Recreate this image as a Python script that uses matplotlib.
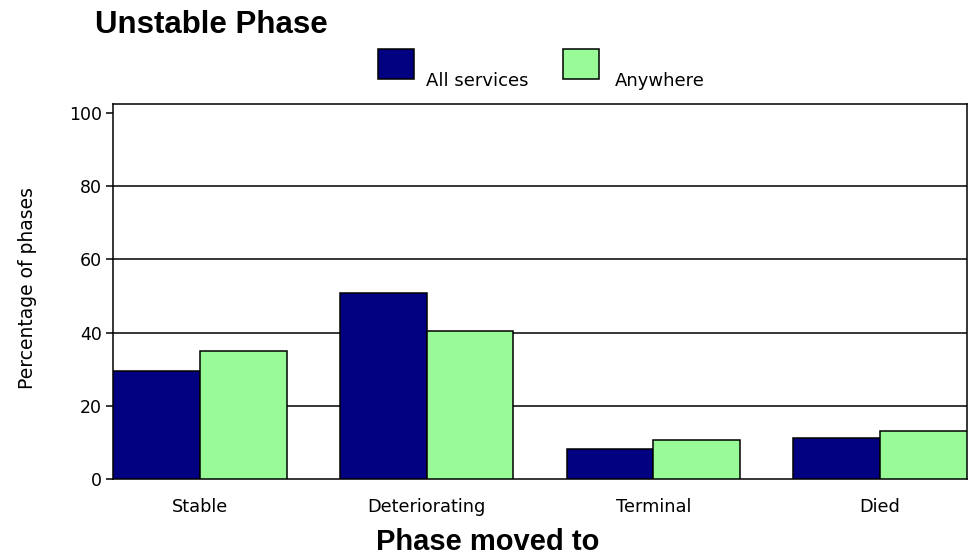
import matplotlib
matplotlib.use("Agg")
import matplotlib.pyplot as plt
from matplotlib.patches import Rectangle
import numpy as np

categories = ["Stable", "Deteriorating", "Terminal", "Died"]
all_services = [29.6, 50.9, 8.1, 11.3]
anywhere = [35.0, 40.4, 10.7, 13.0]
series_names = ["All services", "Anywhere"]
yticks = [0, 20, 40, 60, 80, 100]

NAVY = "#000080"
GREEN = "#98FB98"
W, H = 976, 560

fig = plt.figure(figsize=(W / 100, H / 100), dpi=100)
ax = fig.add_axes([113 / W, 1 - 479 / H, (967 - 113) / W, (479 - 104) / H])

x = np.arange(len(categories))
w = 0.383
ax.bar(x - w / 2, all_services, width=w, color=NAVY, edgecolor="black", linewidth=1.1, zorder=3)
ax.bar(x + w / 2, anywhere, width=w, color=GREEN, edgecolor="black", linewidth=1.1, zorder=3)

for v in yticks[1:-1]:
    ax.axhline(v, color="black", linewidth=1.1, zorder=1)

ax.set_xlim(-w, len(categories) - 1 + w)
ax.set_ylim(0, 102.5)
ax.set_yticks(yticks)
ax.set_xticks(x)
ax.set_xticklabels(categories)
ax.tick_params(axis="x", length=0, pad=14, labelsize=12.8)
ax.tick_params(axis="y", length=5, width=1.1, pad=3, labelsize=12.5)
for s in ax.spines.values():
    s.set_linewidth(1.1)
    s.set_color("black")

fig.text(28 / W, 1 - 288 / H, "Percentage of phases", rotation=90,
         ha="center", va="center", fontsize=13.5)

fig.text(95 / W, 1 - 33 / H, "Unstable Phase", ha="left", va="baseline",
         fontsize=22.5, fontweight="bold", family="Liberation Sans")
fig.text(0.5, 1 - 550 / H, "Phase moved to", ha="center", va="baseline",
         fontsize=21, fontweight="bold", family="Liberation Sans")

# legend drawn by hand: square patch with label sitting low on its right
legend_items = [(378, NAVY, 426), (563, GREEN, 615)]
for (px, col, tx), name in zip(legend_items, series_names):
    fig.add_artist(Rectangle((px / W, 1 - 79 / H), 36 / W, 30 / H,
                             transform=fig.transFigure, facecolor=col,
                             edgecolor="black", linewidth=1.1))
    fig.text(tx / W, 1 - 86 / H, name, ha="left", va="baseline", fontsize=13)

fig.savefig("out.png", dpi=100)
